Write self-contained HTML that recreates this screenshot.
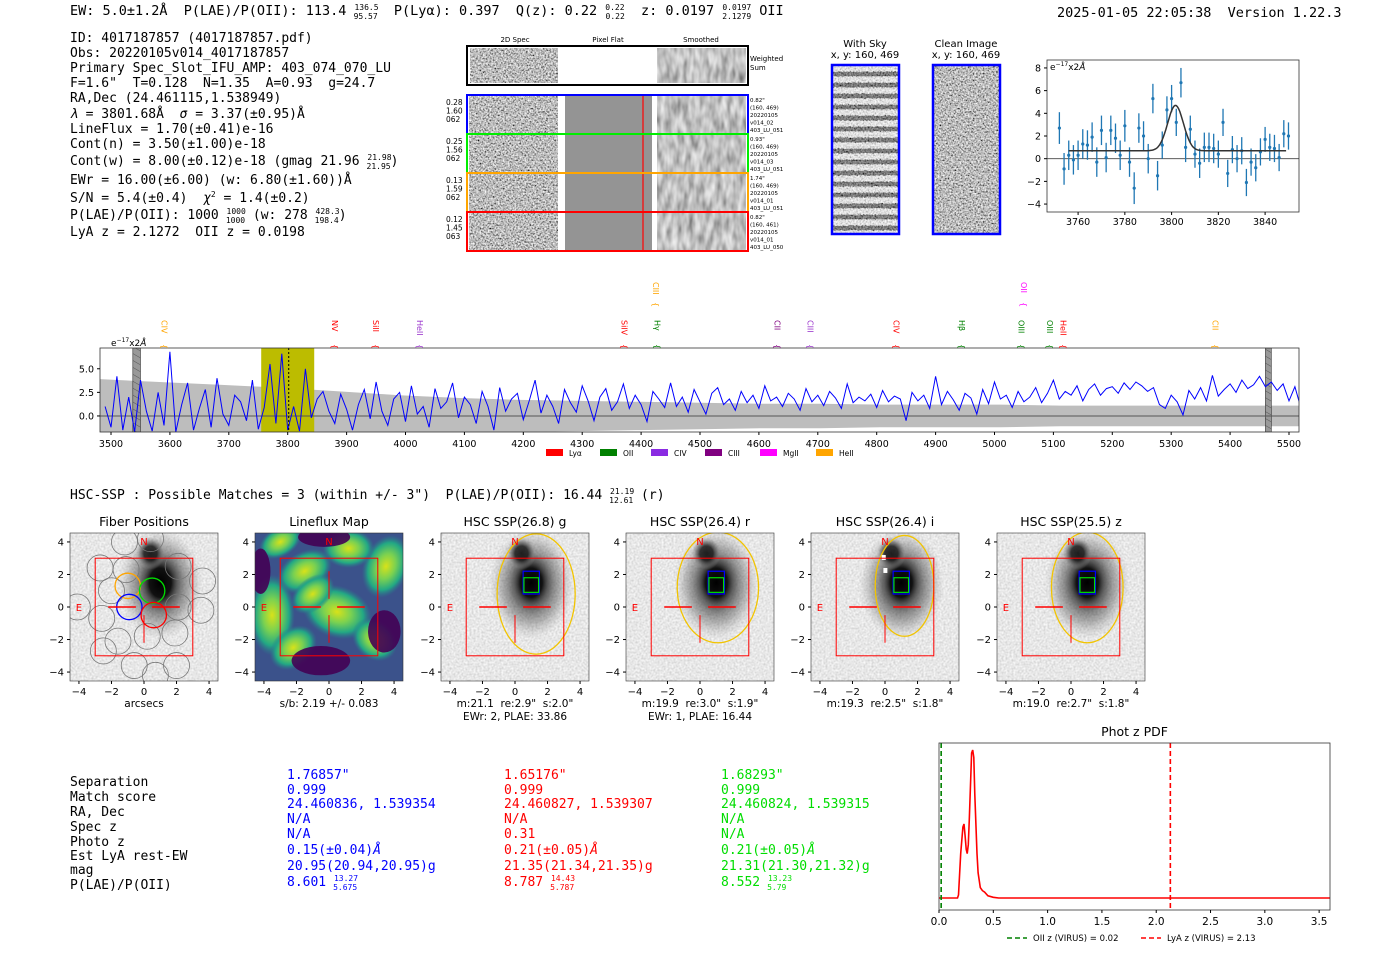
<!DOCTYPE html>
<html><head><meta charset="utf-8">
<style>
html,body{margin:0;padding:0;background:#fff;}
svg{display:block;}
text{white-space:pre;}
.mono{font-family:"DejaVu Sans Mono","Liberation Mono",monospace;}
.sans{font-family:"DejaVu Sans","Liberation Sans",sans-serif;}
</style></head>
<body>
<svg id="root" width="1400" height="953" viewBox="0 0 1400 953" xmlns="http://www.w3.org/2000/svg">
<defs>
  <filter id="grayNoise" x="0" y="0" width="100%" height="100%">
    <feTurbulence type="fractalNoise" baseFrequency="0.6" numOctaves="2" seed="7" result="t"/>
    <feColorMatrix in="t" type="matrix" values="1.6 0 0 0 -0.3  1.6 0 0 0 -0.3  1.6 0 0 0 -0.3  0 0 0 0 1"/>
  </filter>
  <filter id="smoothNoise" x="0" y="0" width="100%" height="100%">
    <feTurbulence type="fractalNoise" baseFrequency="0.18 0.06" numOctaves="2" seed="11" result="t"/>
    <feColorMatrix in="t" type="matrix" values="0.9 0 0 0 0.08  0.9 0 0 0 0.08  0.9 0 0 0 0.08  0 0 0 0 1"/>
  </filter>
  <filter id="lightNoise" x="0" y="0" width="100%" height="100%">
    <feTurbulence type="fractalNoise" baseFrequency="0.5" numOctaves="1" seed="9" result="t"/>
    <feColorMatrix in="t" type="matrix" values="0.5 0 0 0 0.55  0.5 0 0 0 0.55  0.5 0 0 0 0.55  0 0 0 0 1"/>
  </filter>
  <pattern id="stripes" width="10" height="11" patternUnits="userSpaceOnUse">
    <rect width="10" height="5" fill="#fff" opacity="0.55"/>
    <rect y="6" width="10" height="4" fill="#000" opacity="0.35"/>
  </pattern>
  <radialGradient id="gal" cx="50%" cy="50%" r="50%">
    <stop offset="0" stop-color="#000"/>
    <stop offset="0.45" stop-color="#111"/>
    <stop offset="0.7" stop-color="#555" stop-opacity="0.7"/>
    <stop offset="1" stop-color="#999" stop-opacity="0"/>
  </radialGradient>
  <radialGradient id="vir1" cx="50%" cy="50%" r="50%">
    <stop offset="0" stop-color="#d8e219"/>
    <stop offset="0.4" stop-color="#7ad151"/>
    <stop offset="0.75" stop-color="#22a884"/>
    <stop offset="1" stop-color="#2a788e" stop-opacity="0"/>
  </radialGradient>
  <pattern id="hatch" width="6" height="6" patternUnits="userSpaceOnUse" patternTransform="rotate(-60)">
    <rect width="6" height="6" fill="#999"/><line x1="0" y1="0" x2="0" y2="6" stroke="#555" stroke-width="1"/>
  </pattern>
</defs>

<!-- ===== Header ===== -->
<g class="mono" font-size="13.5" fill="#000">
  <text x="70" y="15">EW: 5.0±1.2Å  P(LAE)/P(OII): 113.4 <tspan font-size="8" dy="-5">136.5</tspan><tspan font-size="8" dx="-25" dy="9">95.57</tspan><tspan dy="-4">  P(Lyα): 0.397  Q(z): 0.22 </tspan><tspan font-size="8" dy="-5">0.22</tspan><tspan font-size="8" dx="-19" dy="9">0.22</tspan><tspan dy="-4">  z: 0.0197 </tspan><tspan font-size="8" dy="-5">0.0197</tspan><tspan font-size="8" dx="-29" dy="9">2.1279</tspan><tspan dy="-4"> OII</tspan></text>
  <text x="1057" y="17">2025-01-05 22:05:38  Version 1.22.3</text>
</g>
<g class="mono" font-size="13" fill="#000">
  <text x="70" y="42">ID: 4017187857 (4017187857.pdf)</text>
  <text x="70" y="57">Obs: 20220105v014_4017187857</text>
  <text x="70" y="72">Primary Spec_Slot_IFU_AMP: 403_074_070_LU</text>
  <text x="70" y="87">F=1.6"  T=0.128  N=1.35  A=0.93  g=24.7</text>
  <text x="70" y="102">RA,Dec (24.461115,1.538949)</text>
  <text x="70" y="118"><tspan font-style="italic">λ</tspan> = 3801.68Å  <tspan font-style="italic">σ</tspan> = 3.37(±0.95)Å</text>
  <text x="70" y="133">LineFlux = 1.70(±0.41)e-16</text>
  <text x="70" y="148">Cont(n) = 3.50(±1.00)e-18</text>
  <text x="70" y="165">Cont(w) = 8.00(±0.12)e-18 (gmag 21.96 <tspan font-size="8" dy="-5">21.98</tspan><tspan font-size="8" dx="-25" dy="9">21.95</tspan><tspan dy="-4">)</tspan></text>
  <text x="70" y="184">EWr = 16.00(±6.00) (w: 6.80(±1.60))Å</text>
  <text x="70" y="202">S/N = 5.4(±0.4)  <tspan font-style="italic">χ</tspan><tspan font-size="8" dy="-5">2</tspan><tspan dy="5"> = 1.4(±0.2)</tspan></text>
  <text x="70" y="219">P(LAE)/P(OII): 1000 <tspan font-size="8" dy="-5">1000</tspan><tspan font-size="8" dx="-20" dy="9">1000</tspan><tspan dy="-4"> (w: 278 </tspan><tspan font-size="8" dy="-5">428.3</tspan><tspan font-size="8" dx="-25" dy="9">198.4</tspan><tspan dy="-4">)</tspan></text>
  <text x="70" y="236">LyA z = 2.1272  OII z = 0.0198</text>
</g>

<!-- ===== 2D spectra cutouts ===== -->
<g class="sans">
  <text x="515" y="42" font-size="7" text-anchor="middle">2D Spec</text>
  <text x="608" y="42" font-size="7" text-anchor="middle">Pixel Flat</text>
  <text x="701" y="42" font-size="7" text-anchor="middle">Smoothed</text>
  <g>
    <rect x="467" y="46" width="281" height="39" fill="#fff"/>
    <rect x="470" y="48" width="88" height="35" filter="url(#grayNoise)"/>
    <rect x="657" y="48" width="89" height="35" filter="url(#smoothNoise)"/>
    <rect x="467" y="46" width="281" height="39" fill="none" stroke="#000" stroke-width="2"/>
    <text x="750" y="61" font-size="7">Weighted</text>
    <text x="750" y="70" font-size="7">Sum</text>
  </g>
  <g id="specRows"></g>
</g>

<!-- ===== With sky / Clean image ===== -->
<g class="sans" font-size="10">
  <text x="865" y="47" text-anchor="middle">With Sky</text>
  <text x="865" y="58" text-anchor="middle">x, y: 160, 469</text>
  <rect x="832" y="65" width="67" height="169" filter="url(#grayNoise)"/>
  <rect x="832" y="65" width="67" height="169" fill="url(#stripes)"/>
  <rect x="832" y="65" width="67" height="169" fill="none" stroke="#00f" stroke-width="2.5"/>
  <text x="966" y="47" text-anchor="middle">Clean Image</text>
  <text x="966" y="58" text-anchor="middle">x, y: 160, 469</text>
  <rect x="933" y="65" width="67" height="169" filter="url(#grayNoise)"/>
  <rect x="933" y="65" width="67" height="169" fill="none" stroke="#00f" stroke-width="2.5"/>
</g>

<g id="zoomPlot" class="sans"></g>
<g id="specPlot" class="sans"></g>

<!-- ===== HSC header ===== -->
<text class="mono" x="70" y="499" font-size="13">HSC-SSP : Possible Matches = 3 (within +/- 3")  P(LAE)/P(OII): 16.44 <tspan font-size="8" dy="-5">21.19</tspan><tspan font-size="8" dx="-25" dy="9">12.61</tspan><tspan dy="-4"> (r)</tspan></text>
<g id="cutouts" class="sans"></g>

<!-- ===== Match table ===== -->
<g class="mono" font-size="13">
  <g fill="#000">
    <text x="70" y="786">Separation</text>
    <text x="70" y="801">Match score</text>
    <text x="70" y="816">RA, Dec</text>
    <text x="70" y="831">Spec z</text>
    <text x="70" y="846">Photo z</text>
    <text x="70" y="860">Est LyA rest-EW</text>
    <text x="70" y="874">mag</text>
    <text x="70" y="889">P(LAE)/P(OII)</text>
  </g>
  <g fill="#0000ff">
    <text x="287" y="779">1.76857"</text>
    <text x="287" y="794">0.999</text>
    <text x="287" y="808">24.460836, 1.539354</text>
    <text x="287" y="823">N/A</text>
    <text x="287" y="838">N/A</text>
    <text x="287" y="854">0.15(±0.04)<tspan font-style="italic">Å</tspan></text>
    <text x="287" y="870">20.95(20.94,20.95)g</text>
    <text x="287" y="886">8.601 <tspan font-size="8" dy="-5">13.27</tspan><tspan font-size="8" dx="-25" dy="9">5.675</tspan></text>
  </g>
  <g fill="#ff0000">
    <text x="504" y="779">1.65176"</text>
    <text x="504" y="794">0.999</text>
    <text x="504" y="808">24.460827, 1.539307</text>
    <text x="504" y="823">N/A</text>
    <text x="504" y="838">0.31</text>
    <text x="504" y="854">0.21(±0.05)<tspan font-style="italic">Å</tspan></text>
    <text x="504" y="870">21.35(21.34,21.35)g</text>
    <text x="504" y="886">8.787 <tspan font-size="8" dy="-5">14.43</tspan><tspan font-size="8" dx="-25" dy="9">5.787</tspan></text>
  </g>
  <g fill="#00dd00">
    <text x="721" y="779">1.68293"</text>
    <text x="721" y="794">0.999</text>
    <text x="721" y="808">24.460824, 1.539315</text>
    <text x="721" y="823">N/A</text>
    <text x="721" y="838">N/A</text>
    <text x="721" y="854">0.21(±0.05)<tspan font-style="italic">Å</tspan></text>
    <text x="721" y="870">21.31(21.30,21.32)g</text>
    <text x="721" y="886">8.552 <tspan font-size="8" dy="-5">13.23</tspan><tspan font-size="8" dx="-25" dy="9">5.79</tspan></text>
  </g>
</g>

<g id="pdfPlot" class="sans"></g>
</svg>

<script>
// ---------- Data: line-fit zoom plot ----------
const fitWave = [3752,3754,3756,3758,3760,3762,3764,3766,3768,3770,3772,3774,3776,3778,3780,3782,3784,3786,3788,3790,3792,3794,3796,3798,3800,3802,3804,3806,3808,3810,3812,3814,3816,3818,3820,3822,3824,3826,3828,3830,3832,3834,3836,3838,3840,3842,3844,3846,3848,3850];
const fitFlux = [2.7,-0.9,0.3,-0.1,0.3,1.3,1.2,1.9,-0.3,2.5,0.1,2.5,1.8,0.3,2.9,-0.3,-2.6,2.7,2.0,0.0,5.3,-1.5,1.2,4.3,5.3,3.2,6.7,1.0,2.6,0.4,-0.4,1.0,1.0,0.9,0.4,3.2,-1.3,0.8,0.0,0.7,-2.1,-0.3,-0.8,0.6,1.7,1.0,0.9,0.1,2.2,2.0];
const fitErr = [1.4,1.4,1.3,1.3,1.3,1.3,1.3,1.3,1.3,1.3,1.3,1.3,1.3,1.3,1.4,1.3,1.4,1.3,1.3,1.3,1.3,1.3,1.2,1.2,1.2,1.2,1.3,1.3,1.2,1.2,1.3,1.3,1.3,1.3,1.2,1.2,1.2,1.2,1.2,1.2,1.2,1.2,1.2,1.2,1.1,1.2,1.2,1.2,1.2,1.2];
const fitParams = [3801.68, 3.37, 4.0, 0.7]; // center, sigma, amplitude, continuum
const fitYTicks = [-4,-2,0,2,4,6,8];
const fitXTicks = [3760,3780,3800,3820,3840];

// ---------- Data: full spectrum ----------
const specStart = 3490, specStep = 10;
const specFlux = [1.0,-1.2,4.2,-1.5,2.0,-1.7,3.8,0.5,-1.6,2.5,-1.0,6.8,-1.7,1.2,3.5,-1.5,0.8,2.8,-1.2,4.0,0.2,-1.0,2.2,1.5,-0.5,3.8,-1.4,0.9,5.5,-0.8,6.6,-1.5,1.0,-1.6,5.0,-0.2,1.8,2.6,0.5,-0.8,2.3,0.7,
 -1.5,1.2,2.8,-0.3,3.6,0.5,-1.0,1.8,2.5,-0.6,3.2,0.2,1.0,-1.2,2.9,0.8,1.5,3.5,-0.2,2.0,1.2,-0.8,2.6,1.0,-1.5,3.0,0.5,1.8,
 2.4,-0.4,1.6,3.8,0.3,2.2,1.0,-0.8,2.8,1.4,0.4,3.2,1.6,-0.5,2.0,2.9,0.6,1.5,3.4,0.8,2.2,1.2,-0.6,2.6,1.8,0.9,3.5,1.0,2.0,0.4,
 2.8,1.5,0.2,2.4,3.0,1.2,1.8,0.6,2.6,1.4,2.2,0.8,3.2,1.6,2.0,1.0,2.4,1.8,0.6,2.9,1.5,2.2,1.1,2.6,1.9,0.8,3.4,1.4,2.0,1.6,
 2.3,0.9,2.7,1.5,2.1,1.8,-0.5,2.5,1.6,2.2,0.8,4.2,1.2,2.6,1.7,0.6,2.4,1.9,0.2,2.8,1.3,3.6,1.8,2.2,0.9,2.6,1.5,2.0,3.0,1.4,
 2.4,3.8,1.8,2.6,2.2,3.2,1.6,2.8,3.4,2.2,2.9,3.1,2.4,3.5,2.8,3.6,3.2,2.6,3.0,1.2,0.8,
 2.2,1.5,0.1,2.7,1.8,3.0,1.6,4.3,2.1,2.8,3.4,2.5,3.8,2.9,3.3,4.2,3.1,3.6,2.7,3.4,1.6,3.1,0.9];
const specErr = [3.9,3.6,3.3,3.0,2.6,2.2,1.9,1.7,1.6,1.5,1.4,1.3,1.3,1.2,1.2,1.2,1.1,1.1,1.1,1.1,1.1];
const specXTicks = [3500,3600,3700,3800,3900,4000,4100,4200,4300,4400,4500,4600,4700,4800,4900,5000,5100,5200,5300,5400,5500];
const specYTicks = [0.0,2.5,5.0];
const lineNames = ["CIV","NV","SiII","HeII","SiIV","CIII","Hγ","CII","CIII","CIV","Hβ","OII","OIII","OIII","HeII","CII"];
const lineWaves = [3591,3880,3950,4025,4372,4425,4428,4632,4688,4834,4945,5050,5046,5094,5117,5375];
const lineColors = ["orange","red","red","#9932cc","red","orange","green","#800080","#9932cc","red","green","magenta","green","green","red","orange"];
const lineHigh = [0,0,0,0,0,1,0,0,0,0,0,1,0,0,0,0];
const legendNames = ["Lyα","OII","CIV","CIII","MgII","HeII"];
const legendColors = ["red","green","#8a2be2","#800080","magenta","orange"];

// ---------- Data: phot-z PDF ----------
const pdfZ = [0.0,0.17,0.18,0.20,0.22,0.23,0.24,0.25,0.26,0.27,0.28,0.30,0.31,0.32,0.33,0.35,0.36,0.38,0.40,0.42,0.45,0.50,0.55,1.0,2.0,3.0,3.6];
const pdfP = [0.0,0.0,0.02,0.30,0.48,0.50,0.42,0.33,0.30,0.36,0.55,0.98,1.0,0.95,0.70,0.30,0.17,0.07,0.05,0.04,0.015,0.005,0.0,0.0,0.0,0.0,0.0];
const pdfXTicks = [0.0,0.5,1.0,1.5,2.0,2.5,3.0,3.5];
const pdfOIIz = 0.02, pdfLyAz = 2.13;

// ---------- Data: cutout panels ----------
const cutTitles = ["Fiber Positions","Lineflux Map","HSC SSP(26.8) g","HSC SSP(26.4) r","HSC SSP(26.4) i","HSC SSP(25.5) z"];
const cutSub1 = ["arcsecs","s/b: 2.19 +/- 0.083","m:21.1  re:2.9\"  s:2.0\"","m:19.9  re:3.0\"  s:1.9\"","m:19.3  re:2.5\"  s:1.8\"","m:19.0  re:2.7\"  s:1.8\""];
const cutSub2 = ["","","EWr: 2, PLAE: 33.86","EWr: 1, PLAE: 16.44","",""];
const cutTicks = [-4,-2,0,2,4];

const NS = "http://www.w3.org/2000/svg";
function mk(tag, attrs, parent){ const e=document.createElementNS(NS,tag); for(const k in attrs) e.setAttribute(k,attrs[k]); if(parent) parent.appendChild(e); return e; }
function txt(parent,x,y,s,attrs){ const t=mk('text',Object.assign({x:x,y:y},attrs||{}),parent); t.textContent=s; return t; }

// ---------- Spec rows ----------
(function(){
  const g=document.getElementById('specRows');
  const rows=[{c:'#0000ff',l:['0.28','1.60','062'],r:['0.82"','(160, 469)','20220105','v014_02','403_LU_051']},
              {c:'#00ee00',l:['0.25','1.56','062'],r:['0.93"','(160, 469)','20220105','v014_03','403_LU_051']},
              {c:'orange',l:['0.13','1.59','062'],r:['1.74"','(160, 469)','20220105','v014_01','403_LU_051']},
              {c:'#ff0000',l:['0.12','1.45','063'],r:['0.82"','(160, 461)','20220105','v014_01','403_LU_050']}];
  const ys=[95,134,173,212];
  rows.forEach((r,i)=>{
    const y=ys[i];
    const row=mk('g',{},g);
    
    
    mk('rect',{x:469,y:y+1,width:89,height:37,filter:'url(#grayNoise)'},row);
    mk('rect',{x:565,y:y+1,width:87,height:37,fill:'#949494'},row);
    mk('line',{x1:643,y1:y+1,x2:643,y2:y+38,stroke:'red','stroke-width':1.2},row);
    mk('rect',{x:657,y:y+1,width:89,height:37,filter:'url(#smoothNoise)'},row);
    mk('rect',{x:467,y:y,width:281,height:39,fill:'none',stroke:r.c,'stroke-width':2},row);
    r.l.forEach((s,k)=>txt(row,446,y+10+k*8.5,s,{'font-size':7.5}));
    r.r.forEach((s,k)=>txt(row,750,y+7+k*7.5,s,{'font-size':5.5}));
  });
})();

// ---------- Zoom fit plot ----------
(function(){
  const g=document.getElementById('zoomPlot');
  const L=1047,R=1299,T=60,B=212, x0=3746.7,x1=3854.5, y0=-4.7,y1=8.7;
  const X=v=>L+(v-x0)/(x1-x0)*(R-L), Y=v=>B-(v-y0)/(y1-y0)*(B-T);
  mk('line',{x1:L,y1:Y(0),x2:R,y2:Y(0),stroke:'#444','stroke-width':0.8},g);
  fitWave.forEach((w,i)=>{
    const e=mk('line',{x1:X(w),y1:Y(fitFlux[i]-fitErr[i]),x2:X(w),y2:Y(fitFlux[i]+fitErr[i]),stroke:'#1f77b4','stroke-width':1.3},g);
     
    const p=mk('circle',{cx:X(w),cy:Y(fitFlux[i]),r:1.6,fill:'#1f77b4'},g);
     
  });
  let d='';
  for(let w=3756;w<=3849;w+=0.5){ const f=fitParams[3]+fitParams[2]*Math.exp(-0.5*Math.pow((w-fitParams[0])/fitParams[1],2)); d+=(d?'L':'M')+X(w).toFixed(1)+','+Y(f).toFixed(1); }
  const fl=mk('path',{d:d,fill:'none',stroke:'#333','stroke-width':1.5},g);
   
  mk('rect',{x:L,y:T,width:R-L,height:B-T,fill:'none',stroke:'#333','stroke-width':0.8},g);
  fitYTicks.forEach(v=>{ mk('line',{x1:L-3,y1:Y(v),x2:L,y2:Y(v),stroke:'#000'},g); txt(g,L-6,Y(v)+3.5,v<0?'\u2212'+(-v):String(v),{'font-size':9.5,'text-anchor':'end'}); });
  fitXTicks.forEach(v=>{ mk('line',{x1:X(v),y1:B,x2:X(v),y2:B+3,stroke:'#000'},g); txt(g,X(v),B+13,String(v),{'font-size':9.5,'text-anchor':'middle'}); });
  const u=txt(g,L+3,T+10,'',{'font-size':9});
  u.innerHTML='e<tspan font-size="6" dy="-4">\u221217</tspan><tspan dy="4">x2</tspan><tspan font-style="italic">Å</tspan>';
})();

// ---------- Full spectrum ----------
(function(){
  const g=document.getElementById('specPlot');
  const L=100,R=1299,T=348,B=432, x0=3481.3,x1=5517, y0=-1.7,y1=7.2;
  const X=v=>L+(v-x0)/(x1-x0)*(R-L), Y=v=>B-(v-y0)/(y1-y0)*(B-T);
  const clip=mk('clipPath',{id:'spClip'},g); mk('rect',{x:L,y:T,width:R-L,height:B-T},clip);
  const inner=mk('g',{'clip-path':'url(#spClip)'},g);
  let up='',dn='';
  specErr.forEach((e,i)=>{ const w=3480+i*102; up+=(up?'L':'M')+X(w).toFixed(1)+','+Y(e).toFixed(1); });
  for(let i=specErr.length-1;i>=0;i--){ const w=3480+i*102; dn+='L'+X(w).toFixed(1)+','+Y(-specErr[i]).toFixed(1); }
  const band=mk('path',{d:up+dn+'Z',fill:'#bdbdbd'},inner);
   
  const yb=mk('rect',{x:X(3755),y:T,width:X(3845)-X(3755),height:B-T,fill:'#bcbc00'},inner);
   
  [[3537,3550],[5460,5470]].forEach(r=>{ const h=mk('rect',{x:X(r[0]),y:T,width:X(r[1])-X(r[0]),height:B-T,fill:'url(#hatch)',stroke:'#333','stroke-width':0.6},inner);   });
  mk('line',{x1:L,y1:Y(0),x2:R,y2:Y(0),stroke:'#555','stroke-width':1},inner);
  let d='';
  specFlux.forEach((f,i)=>{ d+=(i?'L':'M')+X(specStart+i*specStep).toFixed(1)+','+Y(f).toFixed(1); });
  const ln=mk('path',{d:d,fill:'none',stroke:'#0000ff','stroke-width':1},inner);
   
  mk('line',{x1:X(3801.7),y1:T,x2:X(3801.7),y2:B,stroke:'#000','stroke-width':1,'stroke-dasharray':'2,2'},inner);
  mk('rect',{x:L,y:T,width:R-L,height:B-T,fill:'none',stroke:'#333','stroke-width':0.8},g);
  specYTicks.forEach(v=>{ mk('line',{x1:L-3,y1:Y(v),x2:L,y2:Y(v),stroke:'#000'},g); txt(g,L-6,Y(v)+3.5,v.toFixed(1),{'font-size':9.5,'text-anchor':'end'}); });
  specXTicks.forEach(v=>{ mk('line',{x1:X(v),y1:B,x2:X(v),y2:B+3,stroke:'#000'},g); txt(g,X(v),B+15,String(v),{'font-size':9.5,'text-anchor':'middle'}); });
  const u=txt(g,111,346,'',{'font-size':9});
  u.innerHTML='e<tspan font-size="6" dy="-4">\u221217</tspan><tspan dy="4">x2</tspan><tspan font-style="italic">Å</tspan>';
  lineNames.forEach((n,i)=>{
    const x=X(lineWaves[i]); const y=lineHigh[i]?282:320;
    const lg=mk('g',{},g);
    
    
    txt(lg,x-3,y,n,{'font-size':8,fill:lineColors[i],transform:'rotate(90 '+(x-3)+' '+y+')'});
    const by=y+(lineHigh[i]?20:24);
    txt(lg,x-3,by,'{',{'font-size':8,fill:lineColors[i],transform:'rotate(90 '+(x-3)+' '+by+')'});
  });
  const lx=[546,600,651,705,760,816];
  legendNames.forEach((n,i)=>{
    const lg=mk('g',{},g);
    
    
    mk('rect',{x:lx[i],y:449,width:17,height:7,fill:legendColors[i]},lg);
    txt(lg,lx[i]+23,456,n,{'font-size':7.5});
  });
})();

// ---------- Cutouts ----------
(function(){
  const g=document.getElementById('cutouts');
  const lefts=[70,255,441,626,811,997];
  const W=148,T=533,H=148, s=W/9.1;
  lefts.forEach((L,i)=>{
    const X=v=>L+(v+4.55)*s, Y=v=>T+H-(v+4.55)*s;
    const p=mk('g',{},g);
    
    
    const cid='cc'+i; const cp=mk('clipPath',{id:cid},p); mk('rect',{x:L,y:T,width:W,height:H},cp);
    const im=mk('g',{'clip-path':'url(#'+cid+')'},p);
    if(i===1){
      mk('rect',{x:L,y:T,width:W,height:H,fill:'#3b528b'},im);
      [[-1.5,2.2,1.8,1.2,-30],[0.5,-0.3,2.2,1.6,20],[-3.5,-0.5,1.4,2.5,0],[-2.2,-2.5,1.6,1.2,-40],[3.5,2.5,1.4,2.0,20],[1.2,3.6,1.6,1.2,0],[-3.0,4.0,1.4,0.9,-30],[2.8,-2.0,1.5,1.2,40],[-1.0,0.8,1.5,1.0,-40]].forEach(b=>{
        mk('ellipse',{cx:X(b[0]),cy:Y(b[1]),rx:b[2]*s,ry:b[3]*s,fill:'url(#vir1)',transform:'rotate('+b[4]+' '+X(b[0])+' '+Y(b[1])+')'},im);
      });
      [[-0.5,-3.3,1.8,0.9],[3.4,-1.5,1.0,1.3],[-0.3,4.3,1.6,0.6],[-4.2,2.2,0.6,1.4]].forEach(b=>mk('ellipse',{cx:X(b[0]),cy:Y(b[1]),rx:b[2]*s,ry:b[3]*s,fill:'#440154',opacity:0.9},im));
    } else {
      mk('rect',{x:L,y:T,width:W,height:H,filter:'url(#lightNoise)'},im);
      mk('ellipse',{cx:X(1.0),cy:Y(1.4),rx:2.6*s,ry:3.4*s,fill:'url(#gal)',opacity:0.55},im);
      mk('ellipse',{cx:X(1.0),cy:Y(1.5),rx:1.5*s,ry:2.0*s,fill:'url(#gal)'},im);
      mk('ellipse',{cx:X(0.4),cy:Y(3.3),rx:0.9*s,ry:1.0*s,fill:'url(#gal)',opacity:0.8},im);
    }
    if(i===0){
      const cen=[[-1.2,4.0],[0.4,4.2],[-2.7,2.4],[-1.1,2.3],[2.1,2.5],[3.6,1.6],[-2.0,1.0],[2.1,0.0],[-4.1,0.0],[-2.6,-0.7],[3.5,-0.2],[-1.6,-2.1],[0.2,-1.8],[1.9,-1.6],[2.0,-3.6],[-2.5,-2.7],[-0.6,-3.6],[0.7,-4.2]];
      cen.forEach(c=>mk('circle',{cx:X(c[0]),cy:Y(c[1]),r:0.8*s,fill:'none',stroke:'#777','stroke-width':0.8},im));
      [[-1.0,1.3,'orange'],[0.5,1.0,'#00dd00'],[-0.9,0.0,'#0000ff'],[0.6,-0.5,'red']].forEach(c=>mk('circle',{cx:X(c[0]),cy:Y(c[1]),r:0.78*s,fill:'none',stroke:c[2],'stroke-width':1.3},im));
    }
    if(i>=2){
      const ell=[[1.3,0.8,2.4,3.7],[1.1,1.2,2.5,3.4],[1.2,1.3,1.8,3.1],[1.0,1.2,2.2,3.4]][i-2];
      mk('ellipse',{cx:X(ell[0]),cy:Y(ell[1]),rx:ell[2]*s,ry:ell[3]*s,fill:'none',stroke:'#f2c400','stroke-width':1.3},im);
      if(i===4){ mk('rect',{x:X(-0.2),y:Y(3.2),width:4,height:5,fill:'#fff'},im); mk('rect',{x:X(-0.1),y:Y(2.4),width:4,height:5,fill:'#fff'},im); }
      mk('rect',{x:X(0.5),y:Y(2.2),width:1*s,height:1.4*s,fill:'none',stroke:'#0000ff','stroke-width':1.2},im);
      mk('rect',{x:X(0.55),y:Y(1.8),width:0.9*s,height:0.9*s,fill:'none',stroke:'#00dd00','stroke-width':1.2},im);
    }
    mk('rect',{x:X(-3),y:Y(3),width:6*s,height:6*s,fill:'none',stroke:'red','stroke-width':1},im);
    mk('line',{x1:X(-2.2),y1:Y(0),x2:X(-0.5),y2:Y(0),stroke:'red','stroke-width':1.4},im);
    mk('line',{x1:X(0.5),y1:Y(0),x2:X(2.2),y2:Y(0),stroke:'red','stroke-width':1.4},im);
    mk('line',{x1:X(0),y1:Y(-0.5),x2:X(0),y2:Y(-2.2),stroke:'red','stroke-width':1},im);
    if(i===1){ mk('line',{x1:X(0),y1:Y(0.5),x2:X(0),y2:Y(2.2),stroke:'red','stroke-width':1},im); }
    txt(p,X(0),Y(3.8),'N',{'font-size':10,fill:'red','text-anchor':'middle'});
    txt(p,X(-4.0),Y(0)+4,'E',{'font-size':10,fill:'red','text-anchor':'middle'});
    mk('rect',{x:L,y:T,width:W,height:H,fill:'none',stroke:'#333','stroke-width':0.6},p);
    txt(p,L+W/2,526,cutTitles[i],{'font-size':12.5,'text-anchor':'middle'});
    cutTicks.forEach(v=>{
      const lab=v<0?'\u2212'+(-v):String(v);
      mk('line',{x1:L-3,y1:Y(v),x2:L,y2:Y(v),stroke:'#000'},p);
      txt(p,L-6,Y(v)+3.5,lab,{'font-size':10,'text-anchor':'end'});
      mk('line',{x1:X(v),y1:T+H,x2:X(v),y2:T+H+3,stroke:'#000'},p);
      txt(p,X(v),T+H+14,lab,{'font-size':10,'text-anchor':'middle'});
    });
    txt(p,L+W/2,707,cutSub1[i],{'font-size':10.5,'text-anchor':'middle'});
    if(cutSub2[i]) txt(p,L+W/2,720,cutSub2[i],{'font-size':10.5,'text-anchor':'middle'});
  });
})();

// ---------- Phot z PDF ----------
(function(){
  const g=document.getElementById('pdfPlot');
  const L=939,R=1330,T=743,B=910, x0=0,x1=3.6;
  const X=v=>L+(v-x0)/(x1-x0)*(R-L), Y=v=>898-v*148;
  txt(g,(L+R)/2,736,'Phot z PDF',{'font-size':12.5,'text-anchor':'middle'});
  let d='';
  pdfZ.forEach((z,i)=>{ d+=(i?'L':'M')+X(z).toFixed(1)+','+Y(pdfP[i]).toFixed(1); });
  const c=mk('path',{d:d,fill:'none',stroke:'red','stroke-width':1.6},g);
   
  const o=mk('line',{x1:X(pdfOIIz),y1:T,x2:X(pdfOIIz),y2:B,stroke:'green','stroke-width':1.6,'stroke-dasharray':'5,3'},g);
   
  const ly=mk('line',{x1:X(pdfLyAz),y1:T,x2:X(pdfLyAz),y2:B,stroke:'red','stroke-width':1.6,'stroke-dasharray':'5,3'},g);
   
  mk('rect',{x:L,y:T,width:R-L,height:B-T,fill:'none',stroke:'#333','stroke-width':0.8},g);
  pdfXTicks.forEach(v=>{ mk('line',{x1:X(v),y1:B,x2:X(v),y2:B+3,stroke:'#000'},g); txt(g,X(v),B+15,v.toFixed(1),{'font-size':10.5,'text-anchor':'middle'}); });
  const l1=mk('g',{},g);  
  mk('line',{x1:1007,y1:938,x2:1027,y2:938,stroke:'green','stroke-width':1.6,'stroke-dasharray':'5,3'},l1);
  txt(l1,1033,941,'OII z (VIRUS) = 0.02',{'font-size':8.5});
  const l2=mk('g',{},g);  
  mk('line',{x1:1141,y1:938,x2:1161,y2:938,stroke:'red','stroke-width':1.6,'stroke-dasharray':'5,3'},l2);
  txt(l2,1167,941,'LyA z (VIRUS) = 2.13',{'font-size':8.5});
})();
</script>
</body></html>
